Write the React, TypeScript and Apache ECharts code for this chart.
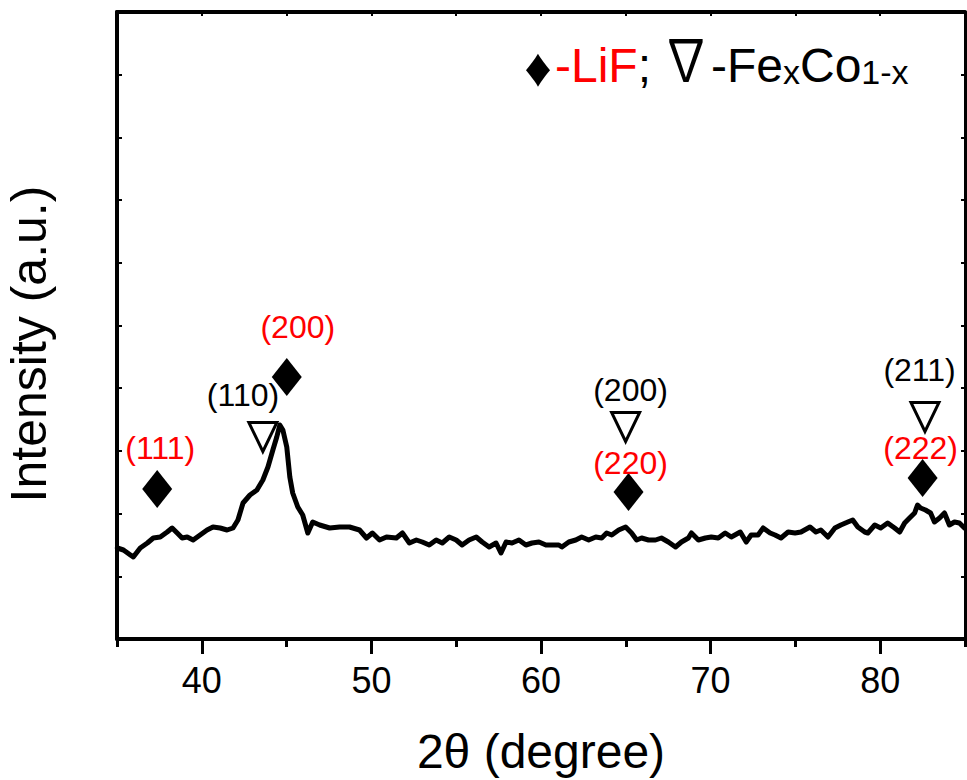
import React, { useEffect, useRef } from "react";
import * as echarts from "echarts";

const FONT = '"Liberation Sans", Arial, "DejaVu Sans", sans-serif';
const NABLA_FONT = '"Noto Sans CJK SC", "Noto Sans", "DejaVu Sans", sans-serif';

// XRD pattern: 2θ (degree) and intensity (a.u.)
const twoTheta = [
  35.02, 35.38, 35.79, 35.96, 36.37, 36.79, 37.14, 37.55, 37.96, 38.25,
  38.55, 38.84, 39.14, 39.49, 39.9, 40.31, 40.66, 41.08, 41.49, 41.84,
  42.13, 42.43, 42.84, 43.25, 43.6, 43.9, 44.19, 44.42, 44.6, 44.78,
  45.01, 45.19, 45.36, 45.66, 45.95, 46.25, 46.54, 46.95, 47.54, 48.13,
  48.71, 49.3, 49.71, 50.06, 50.48, 50.89, 51.47, 51.83, 52.24, 52.65,
  53.0, 53.41, 53.82, 54.18, 54.59, 55.0, 55.35, 55.76, 56.18, 56.53,
  56.94, 57.35, 57.64, 57.94, 58.29, 58.7, 59.11, 59.47, 59.88, 60.29,
  60.64, 61.05, 61.23, 61.64, 62.05, 62.4, 62.81, 63.23, 63.58, 63.87,
  64.17, 64.58, 64.99, 65.34, 65.64, 65.93, 66.34, 66.75, 67.1, 67.51,
  67.93, 68.28, 68.69, 68.87, 69.28, 69.69, 70.04, 70.45, 70.86, 71.22,
  71.75, 72.1, 72.39, 72.8, 73.1, 73.51, 73.8, 74.15, 74.57, 74.98,
  75.33, 75.86, 76.21, 76.5, 76.92, 77.33, 77.68, 78.09, 78.38, 78.68,
  79.09, 79.27, 79.68, 80.03, 80.44, 80.85, 81.15, 81.44, 81.73, 82.03,
  82.2, 82.38, 82.67, 82.97, 83.2, 83.5, 83.79, 84.08, 84.38, 84.67,
  84.97,
];
const intensity = [
  91, 89, 84, 82, 91, 96, 101, 102, 107, 111,
  106, 101, 102, 99, 104, 109, 112, 111, 109, 111,
  119, 136, 144, 149, 159, 172, 189, 202, 214, 209,
  192, 162, 146, 132, 124, 106, 117, 114, 111, 112,
  112, 109, 101, 106, 99, 102, 101, 106, 96, 99,
  97, 94, 99, 96, 102, 99, 94, 99, 102, 97,
  92, 96, 86, 97, 96, 99, 94, 96, 97, 94,
  94, 94, 92, 97, 99, 102, 99, 102, 101, 106,
  104, 109, 112, 106, 99, 101, 99, 99, 101, 97,
  92, 97, 101, 106, 99, 101, 102, 101, 106, 102,
  107, 97, 104, 104, 111, 106, 104, 101, 107, 106,
  107, 112, 107, 109, 102, 111, 114, 117, 119, 112,
  107, 106, 114, 111, 116, 111, 107, 116, 121, 126,
  134, 131, 129, 126, 117, 121, 126, 114, 117, 116,
  111,
];

// LiF reflections (filled diamonds, red Miller indices)
const lifPeakX = [37.37, 45.01, 65.16, 82.5];
const lifPeakY = [150, 262, 147, 161];
const lifLabels = ["(111)", "(200)", "(220)", "(222)"];
const lifLabelX = [37.55, 45.66, 65.28, 82.38];
const lifLabelY = [191, 312, 176, 191];

// FexCo1-x reflections (open down triangles, black Miller indices)
const fecoPeakX = [43.6, 64.99, 82.64];
const fecoPeakY = [202, 212, 222];
const fecoLabels = ["(110)", "(200)", "(211)"];
const fecoLabelX = [42.43, 65.28, 82.32];
const fecoLabelY = [244, 249, 269];

const xMajorTicks = [40, 50, 60, 70, 80];
const xMin = 35;
const xMax = 85;
const yMin = 0;
const yMax = 627;

export default function App() {
  const ref = useRef<HTMLDivElement>(null);

  useEffect(() => {
    if (!ref.current) return;
    const chart = echarts.init(ref.current, null, { renderer: "svg" });

    const black = "#000";
    const red = "#ff0000";
    const frameAxisCommon = {
      type: "value",
      min: xMin,
      max: xMax,
      interval: 5,
      splitLine: { show: false },
    };

    const option: any = {
      animation: false,
      backgroundColor: "#fff",
      grid: {
        left: 117,
        right: 2,
        top: 12,
        bottom: 141,
        containLabel: false,
        outerBoundsMode: "none",
      },
      xAxis: [
        {
          ...frameAxisCommon,
          position: "bottom",
          axisLine: { show: true, onZero: false, lineStyle: { color: black, width: 4 } },
          axisTick: {
            show: true,
            inside: false,
            length: 15,
            customValues: xMajorTicks,
            lineStyle: { color: black, width: 3 },
          },
          axisLabel: {
            show: true,
            customValues: xMajorTicks,
            margin: 23,
            fontSize: 36,
            color: black,
            fontFamily: FONT,
          },
          name: "2θ (degree)",
          nameLocation: "middle",
          nameGap: 88,
          nameTextStyle: { fontSize: 48, color: black, fontFamily: FONT },
        },
        {
          ...frameAxisCommon,
          position: "bottom",
          axisLine: { show: false, onZero: false },
          axisTick: { show: true, inside: false, length: 8, lineStyle: { color: black, width: 3 } },
          axisLabel: { show: false },
        },
        {
          ...frameAxisCommon,
          position: "top",
          axisLine: { show: true, onZero: false, lineStyle: { color: black, width: 4 } },
          axisTick: { show: true, inside: true, length: 4, lineStyle: { color: black, width: 2 } },
          axisLabel: { show: false },
        },
      ],
      yAxis: [
        {
          type: "value",
          position: "left",
          min: yMin,
          max: yMax,
          interval: 62.7,
          splitLine: { show: false },
          axisLine: { show: true, onZero: false, lineStyle: { color: black, width: 4 } },
          axisTick: { show: true, inside: true, length: 5, lineStyle: { color: black, width: 2 } },
          axisLabel: { show: false },
          name: "Intensity (a.u.)",
          nameLocation: "middle",
          nameGap: 63,
          nameRotate: 90,
          nameTextStyle: {
            fontSize: 50,
            color: black,
            fontFamily: FONT,
            padding: [0, 37, 0, 0],
          },
        },
        {
          type: "value",
          position: "right",
          min: yMin,
          max: yMax,
          interval: 62.7,
          splitLine: { show: false },
          axisLine: { show: true, onZero: false, lineStyle: { color: black, width: 3 } },
          axisTick: { show: true, inside: true, length: 4, lineStyle: { color: black, width: 2 } },
          axisLabel: { show: false },
        },
      ],
      series: [
        {
          type: "line",
          xAxisIndex: 0,
          yAxisIndex: 0,
          data: twoTheta.map((t, i) => [t, intensity[i]]),
          showSymbol: false,
          symbol: "none",
          clip: true,
          lineStyle: { color: black, width: 5, join: "round", cap: "round" },
          z: 3,
        },
        {
          type: "scatter",
          xAxisIndex: 0,
          yAxisIndex: 0,
          symbol: "diamond",
          symbolSize: [30, 38],
          itemStyle: { color: black, opacity: 1 },
          data: lifPeakX.map((x, i) => [x, lifPeakY[i]]),
          z: 4,
        },
        {
          type: "scatter",
          xAxisIndex: 0,
          yAxisIndex: 0,
          symbol: "triangle",
          symbolRotate: 180,
          symbolSize: [28, 29],
          itemStyle: {
            color: "rgba(255,255,255,0)",
            borderColor: black,
            borderWidth: 3,
            opacity: 1,
          },
          data: fecoPeakX.map((x, i) => [x, fecoPeakY[i]]),
          z: 4,
        },
        {
          type: "scatter",
          xAxisIndex: 0,
          yAxisIndex: 0,
          symbolSize: 1,
          itemStyle: { color: "rgba(0,0,0,0)", opacity: 1 },
          label: {
            show: true,
            position: "inside",
            formatter: "{b}",
            fontSize: 32,
            color: red,
            opacity: 1,
            fontFamily: FONT,
          },
          data: lifLabels.map((t, i) => ({ name: t, value: [lifLabelX[i], lifLabelY[i]] })),
          z: 5,
        },
        {
          type: "scatter",
          xAxisIndex: 0,
          yAxisIndex: 0,
          symbolSize: 1,
          itemStyle: { color: "rgba(0,0,0,0)", opacity: 1 },
          label: {
            show: true,
            position: "inside",
            formatter: "{b}",
            fontSize: 32,
            color: black,
            opacity: 1,
            fontFamily: FONT,
          },
          data: fecoLabels.map((t, i) => ({ name: t, value: [fecoLabelX[i], fecoLabelY[i]] })),
          z: 5,
        },
      ],
      graphic: [
        {
          type: "text",
          x: 538,
          y: 67,
          z: 10,
          style: {
            text: "♦",
            fontSize: 54,
            fontFamily: FONT,
            fill: black,
            align: "center",
            verticalAlign: "middle",
          },
        },
        {
          type: "text",
          left: 555,
          top: 41,
          z: 10,
          style: {
            text: "{r|-LiF}{k|;}",
            fontFamily: FONT,
            rich: {
              r: { fontSize: 48, fill: red, fontFamily: FONT, verticalAlign: "bottom" },
              k: { fontSize: 48, fill: black, fontFamily: FONT, verticalAlign: "bottom" },
            },
          },
        },
        {
          type: "text",
          x: 686,
          y: 56,
          scaleY: 1.2,
          z: 10,
          style: {
            text: "∇",
            fontSize: 48,
            fontFamily: NABLA_FONT,
            fill: black,
            align: "center",
            verticalAlign: "middle",
          },
        },
        {
          type: "text",
          left: 711,
          top: 41,
          z: 10,
          style: {
            text: "{k|-Fe}{s|x}{k|Co}{s|1-x}",
            fontFamily: FONT,
            rich: {
              k: { fontSize: 48, fill: black, fontFamily: FONT, verticalAlign: "bottom" },
              s: { fontSize: 34, fill: black, fontFamily: FONT, verticalAlign: "bottom" },
            },
          },
        },
      ],
    };

    chart.setOption(option);
    return () => {
      chart.dispose();
    };
  }, []);

  return (
    <div
      ref={ref}
      style={{ position: "absolute", left: 0, top: 0, width: 967, height: 780, background: "#fff" }}
    />
  );
}
